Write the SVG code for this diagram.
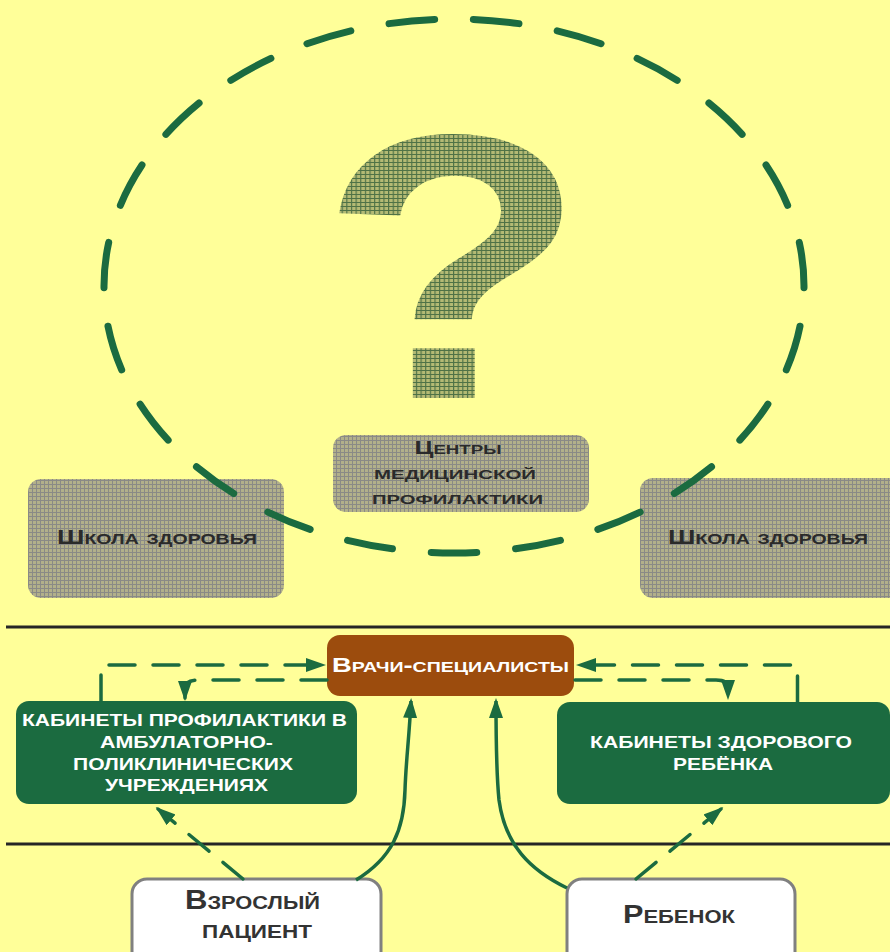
<svg xmlns="http://www.w3.org/2000/svg" width="890" height="952" viewBox="0 0 890 952">
  <defs>
    <pattern id="grayGrid" width="4" height="4" patternUnits="userSpaceOnUse">
      <rect width="4" height="4" fill="#B2B08A"/>
      <path d="M0,0.5 H4 M0.5,0 V4" stroke="#8A8A86" stroke-width="1"/>
    </pattern>
    <pattern id="greenGrid" width="4" height="4" patternUnits="userSpaceOnUse">
      <rect width="4" height="4" fill="#B4BA74"/>
      <path d="M0,0.5 H4 M0.5,0 V4" stroke="#4F7246" stroke-width="1"/>
    </pattern>
    <marker id="arrow" markerUnits="userSpaceOnUse" markerWidth="20" markerHeight="16" viewBox="0 0 20 16" refX="17" refY="8" orient="auto">
      <path d="M0,1 L20,8 L0,15 Z" fill="#1B6B40"/>
    </marker>
    <style>
      .gray { fill: url(#grayGrid); }
      .gtext { font-family: "Liberation Sans", Arial, sans-serif; font-weight: bold; fill: #2A2A2A; font-variant: small-caps; text-anchor: middle; }
      .wtext { font-family: "Liberation Sans", Arial, sans-serif; font-weight: bold; fill: #FFFFFF; text-anchor: middle; font-size: 17px; }
      .btext { font-family: "Liberation Sans", Arial, sans-serif; font-weight: bold; fill: #333333; font-variant: small-caps; text-anchor: middle; }
      .green { fill: #1B6B40; }
      .conn { fill: none; stroke: #1B6B40; stroke-width: 3.5; }
      .dash { stroke-dasharray: 26 18; stroke-linecap: round; }
      .sep { stroke: #262626; stroke-width: 3; }
      .white { fill: #FFFFFF; stroke: #808080; stroke-width: 3; }
    </style>
  </defs>

  <rect width="890" height="952" fill="#FFFF99"/>

  <!-- big question mark -->
  <g id="question">
    <text transform="translate(453,398) scale(1.16,1)" font-family="'Liberation Sans', Arial, sans-serif" font-weight="bold" font-size="378" text-anchor="middle" fill="url(#greenGrid)">?</text>
  </g>

  <!-- gray boxes -->
  <g id="school-left">
    <rect class="gray" x="28" y="479" width="256" height="119" rx="13"/>
    <text class="gtext" x="157" y="544" font-size="21" textLength="200" lengthAdjust="spacingAndGlyphs">Школа здоровья</text>
  </g>
  <g id="centers">
    <rect class="gray" x="333" y="435" width="256" height="77" rx="13"/>
    <text class="gtext" x="458" y="454" font-size="18" textLength="87" lengthAdjust="spacingAndGlyphs">Центры</text>
    <text class="gtext" x="455" y="479" font-size="18" textLength="162" lengthAdjust="spacingAndGlyphs">медицинской</text>
    <text class="gtext" x="457.5" y="504" font-size="18" textLength="171" lengthAdjust="spacingAndGlyphs">профилактики</text>
  </g>
  <g id="school-right">
    <rect class="gray" x="640" y="478" width="262" height="120" rx="13"/>
    <text class="gtext" x="768" y="544" font-size="21" textLength="200" lengthAdjust="spacingAndGlyphs">Школа здоровья</text>
  </g>

  <!-- dashed ellipse -->
  <g id="ellipse">
    <path d="M454,19 A350,267 0 1,1 454,553 A350,267 0 1,1 454,19 Z" pathLength="2300" fill="none" stroke="#1B6B40" stroke-width="7" stroke-linecap="round" stroke-dasharray="54 46" stroke-dashoffset="77"/>
  </g>

  <!-- separators -->
  <g id="separators">
    <line class="sep" x1="6" y1="627" x2="890" y2="627"/>
    <line class="sep" x1="6" y1="844" x2="890" y2="844"/>
  </g>

  <!-- lower nodes -->
  <g id="doctors">
    <rect x="327" y="635" width="247" height="61" rx="13" fill="#9C4C0D"/>
    <text x="450.5" y="672" font-family="'Liberation Sans', Arial, sans-serif" font-weight="bold" font-size="21" fill="#FFFFFF" font-variant="small-caps" text-anchor="middle" textLength="237" lengthAdjust="spacingAndGlyphs">Врачи-специалисты</text>
  </g>
  <g id="prof-cabinets">
    <rect class="green" x="16" y="701" width="341" height="103" rx="13"/>
    <text class="wtext" x="184.5" y="726" textLength="325" lengthAdjust="spacingAndGlyphs">КАБИНЕТЫ ПРОФИЛАКТИКИ В</text>
    <text class="wtext" x="186.5" y="748" textLength="173" lengthAdjust="spacingAndGlyphs">АМБУЛАТОРНО-</text>
    <text class="wtext" x="183" y="770" textLength="220" lengthAdjust="spacingAndGlyphs">ПОЛИКЛИНИЧЕСКИХ</text>
    <text class="wtext" x="186.5" y="791" textLength="163" lengthAdjust="spacingAndGlyphs">УЧРЕЖДЕНИЯХ</text>
  </g>
  <g id="child-cabinets">
    <rect class="green" x="557" y="702" width="333" height="102" rx="13"/>
    <text class="wtext" x="721" y="748" textLength="262" lengthAdjust="spacingAndGlyphs">КАБИНЕТЫ ЗДОРОВОГО</text>
    <text class="wtext" x="723" y="770" textLength="100" lengthAdjust="spacingAndGlyphs">РЕБЁНКА</text>
  </g>
  <g id="adult">
    <rect class="white" x="132" y="879" width="249" height="90" rx="15"/>
    <text class="btext" x="252.5" y="909" font-size="27" textLength="135" lengthAdjust="spacingAndGlyphs">Взрослый</text>
    <text class="btext" x="257" y="938" font-size="27" textLength="110" lengthAdjust="spacingAndGlyphs">пациент</text>
  </g>
  <g id="child">
    <rect class="white" x="567" y="879" width="228" height="90" rx="15"/>
    <text class="btext" x="679" y="923" font-size="25" textLength="112" lengthAdjust="spacingAndGlyphs">Ребенок</text>
  </g>

  <!-- connectors -->
  <g id="connectors">
    <path class="conn dash" d="M101,701 V665 H323" marker-end="url(#arrow)"/>
    <path class="conn dash" d="M327,680 H198 Q185,680 185,688 V698" marker-end="url(#arrow)"/>
    <path class="conn dash" d="M797.5,702 V665 H579" marker-end="url(#arrow)"/>
    <path class="conn dash" d="M575,680 H716 Q728,680 728,688 V697" marker-end="url(#arrow)"/>
    <path class="conn dash" d="M243,879 L158,809" marker-end="url(#arrow)"/>
    <path class="conn dash" d="M636,879 L721,809" marker-end="url(#arrow)"/>
    <path class="conn" d="M356,880 C392,858 404,830 405,790 C406,760 409,740 411,701" marker-end="url(#arrow)"/>
    <path class="conn" d="M567,888 C530,870 505,845 499,800 C496,770 496,740 496,701" marker-end="url(#arrow)"/>
  </g>
</svg>
